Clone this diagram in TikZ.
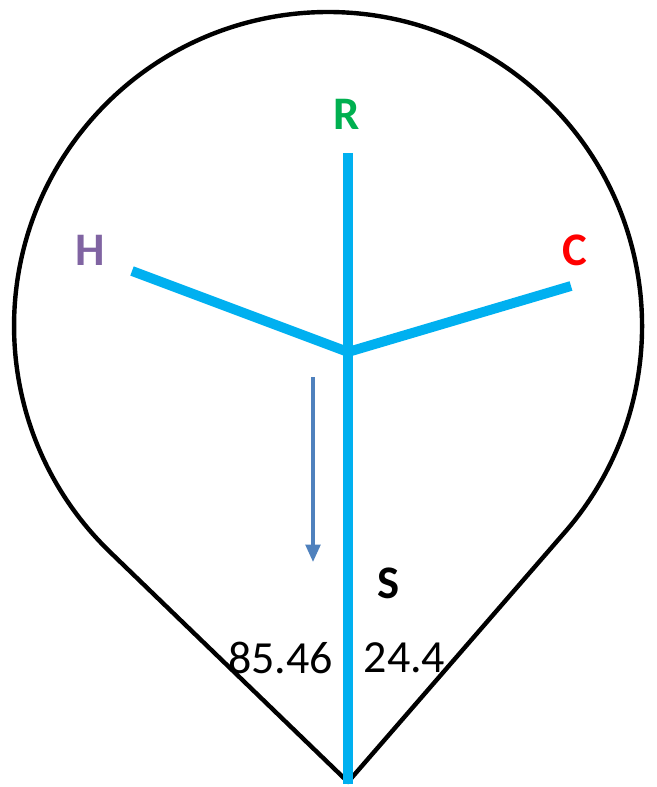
\documentclass[tikz,border=0pt]{standalone}
\usepackage{fontspec}
\setmainfont{Carlito}
\usetikzlibrary{arrows.meta}
\definecolor{cyanline}{HTML}{00B0F0}
\definecolor{arrowblue}{HTML}{4F81BD}
\definecolor{rgreen}{HTML}{00B050}
\definecolor{hpurple}{HTML}{8064A2}
\definecolor{cred}{HTML}{FF0000}
\begin{document}
\begin{tikzpicture}[x=0.75pt,y=0.75pt,
  bond/.style={draw=cyanline,line width=7.4pt},
  outline/.style={draw=black,line width=3.3pt,line join=round},
  lbl/.style={font=\fontsize{35}{40}\selectfont\bfseries,inner sep=0pt,anchor=center},
  num/.style={font=\fontsize{34.5}{40}\selectfont,inner sep=0pt,anchor=center},
  downarrow/.style={draw=arrowblue,line width=2.4pt,-{Triangle[length=13pt,width=11pt]}}]
\useasboundingbox (0,0) rectangle (656,-787);
% outline: circle with two tangent lines to the bottom tip
\coordinate (T1) at (109.8,-551.8);
\coordinate (P) at (348,-782);
\coordinate (T2) at (565.2,-531.8);
\draw[outline] (T1) -- (P) -- (T2) arc[start angle=-40.95,end angle=226,radius=235.5pt] -- cycle;
% bonds
\coordinate (J) at (348,-352);
\coordinate (Rt) at (348,-153);
\coordinate (Bt) at (348,-784);
\coordinate (Hend) at (132,-271);
\coordinate (Cend) at (571,-286);
\draw[bond] (Rt) -- (Bt);
\draw[bond,line join=miter] (Hend) -- (J) -- (Cend);
% arrow
\coordinate (A1) at (313,-377);
\coordinate (A2) at (313,-562);
\draw[downarrow] (A1) -- (A2);
% labels
\node[lbl,text=rgreen] (R) at (346.5,-114) {R};
\node[lbl,text=hpurple] (H) at (90,-250) {H};
\node[lbl,text=cred] (C) at (575,-250) {C};
\node[lbl,text=black] (S) at (388.5,-583.5) {S};
\node[num] (n1) at (280.5,-657.5) {85.46};
\node[num] (n2) at (404.5,-657.5) {24.4};
\end{tikzpicture}
\end{document}
